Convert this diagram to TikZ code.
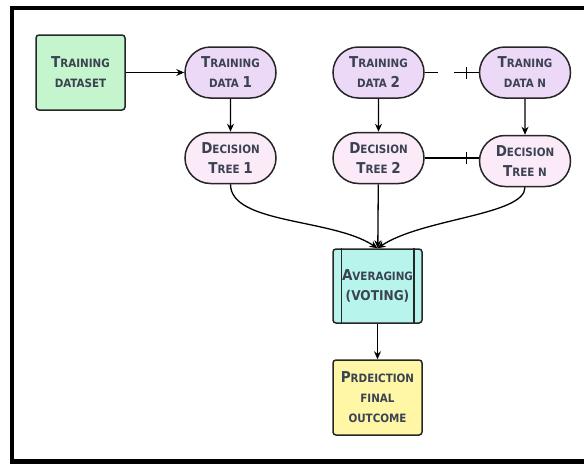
\documentclass[tikz,border=0pt]{standalone}
\usepackage{fontspec}
\usetikzlibrary{arrows.meta,shapes.misc,decorations.markings}
\newfontfamily\lab{DejaVuSansCondensed-Bold.ttf}
\newcommand\scup[1]{{\fontsize{15}{20}\selectfont #1}}
\definecolor{ink}{HTML}{3B4252}
\definecolor{setgreen}{HTML}{C4F5CC}
\definecolor{datapink}{HTML}{ECD9F8}
\definecolor{treepink}{HTML}{FBEAF8}
\definecolor{avgcyan}{HTML}{B6F4EC}
\definecolor{outyellow}{HTML}{FFF7A6}
\tikzset{
  base/.style={draw=black!85, line width=1.5pt, align=center, text=ink,
    font=\lab\fontsize{11.5}{20}\selectfont, inner sep=0pt},
  flatbox/.style={base, rectangle, rounded corners=3pt, minimum width=89pt, minimum height=75pt},
  pill/.style={base, rounded rectangle, minimum width=91pt, minimum height=51pt},
  onebar/.style={postaction={draw=none, decorate, decoration={markings,
    mark=at position -12pt with {\draw[solid, line width=1.3pt] (0,-6pt) -- (0,6pt);}}}}
}
\begin{document}
\begin{tikzpicture}[x=1pt, y=-1pt, >={Stealth[length=8pt,width=7pt]}, line width=1.3pt]
\useasboundingbox (0,0) rectangle (584,464);
% frame
\draw[line width=4.5pt] (590,8) -- (12,8) -- (12,461.5) -- (590,461.5);
% nodes
\node[flatbox, fill=setgreen] (ds) at (80.5,72.5) {\scup{T}RAINING\\DATASET};
\node[pill, fill=datapink] (d1) at (230.5,72.5) {\scup{T}RAINING\\DATA \scup{1}};
\node[pill, fill=treepink] (t1) at (230.5,158) {\scup{D}ECISION\\\scup{T}REE \scup{1}};
\node[pill, fill=datapink] (d2) at (378.5,72.5) {\scup{T}RAINING\\DATA \scup{2}};
\node[pill, fill=treepink] (t2) at (378.5,158) {\scup{D}ECISION\\\scup{T}REE \scup{2}};
\node[pill, fill=datapink] (dN) at (525,72.5) {\scup{T}RANING\\DATA N};
\node[pill, fill=treepink] (tN) at (525,161) {\scup{D}ECISION\\\scup{T}REE N};
\node[flatbox, fill=avgcyan, minimum height=74pt] (avg) at (377.5,286)
  {\scup{A}VERAGING\\{\fontsize{13.5}{20}\selectfont(VOTING)}};
\draw[line width=1.5pt, draw=black!85] ([xshift=9pt]avg.north west) -- ([xshift=9pt]avg.south west)
  ([xshift=-9pt]avg.north east) -- ([xshift=-9pt]avg.south east);
\node[flatbox, fill=outyellow] (pred) at (377.5,397.5) {\scup{P}RDEICTION\\FINAL\\OUTCOME};
% connectors
\draw[->] (ds) -- (d1);
\draw[->] (d1) -- (t1);
\draw[->] (d2) -- (t2);
\draw[->] (dN) -- (tN);
\draw[onebar, dash pattern=on 13pt off 16pt on 60pt] (d2.east) -- (dN.west);
\draw[onebar] (t2.east) -- (t2.east -| tN.west);
\draw[->] (t1.south) .. controls +(0,40) and +(-45,-30) .. (avg.north);
\draw[->] (t2) -- (avg);
\draw[->] (tN.south) .. controls +(0,28) and +(45,-30) .. (avg.north);
\draw[->] (avg) -- (pred);
\end{tikzpicture}
\end{document}
